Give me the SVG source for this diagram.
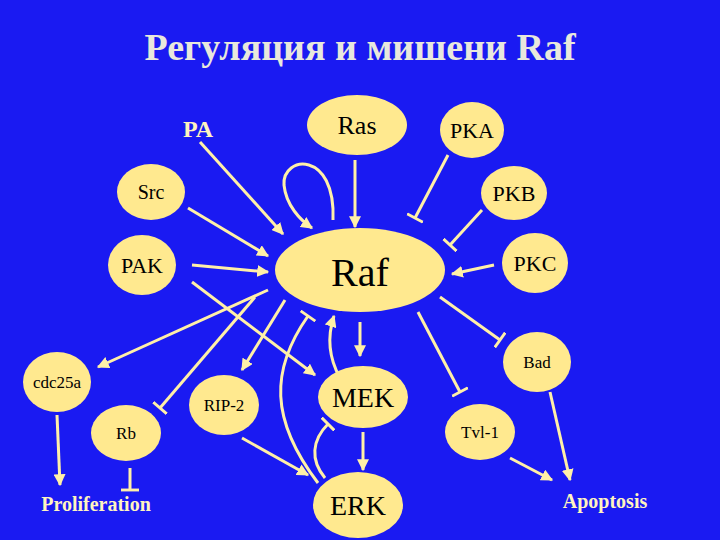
<svg xmlns="http://www.w3.org/2000/svg" width="720" height="540" viewBox="0 0 720 540">
<defs>
<marker id="ar" viewBox="0 0 10 10" refX="9" refY="5" markerWidth="4" markerHeight="4" orient="auto"><path d="M0,0L10,5L0,10z" fill="#fff0a8"/></marker>
<marker id="tb" viewBox="0 0 10 10" refX="5" refY="5" markerWidth="6" markerHeight="6" orient="auto" markerUnits="strokeWidth"><path d="M5,0V10" stroke="#fff0a8" stroke-width="1.6"/></marker>
</defs>
<style>
text{font-family:'Liberation Serif','Times New Roman','DejaVu Serif',serif}
.n ellipse{fill:#ffe98f}
.n text{fill:#000;text-anchor:middle;dominant-baseline:central;font-weight:normal}
#edges path{stroke:#fff0a8;stroke-width:3;fill:none}
.a{marker-end:url(#ar)}
.t{marker-end:url(#tb)}
.lbl{fill:#fff4c0;font-weight:bold;text-anchor:middle}
</style>
<rect width="720" height="540" fill="#1a1af2"/>
<text x="360" y="60" class="lbl" font-size="38" style="fill:#e8e8dc">Регуляция и мишени Raf</text>
<g id="edges">
<path class="a" d="M200,142L283,234"/>
<path class="a" d="M333,220C336,150 282,155 284,185C286,205 300,220 312,228"/>
<path class="a" d="M355,160L355,227"/>
<path class="t" d="M448,155L415,218"/>
<path class="t" d="M482,210L450,245"/>
<path class="a" d="M494,265L452,274"/>
<path class="a" d="M188,208L268,256"/>
<path class="a" d="M192,265L268,272"/>
<path class="a" d="M192,282L315,375"/>
<path class="a" d="M268,290L98,367"/>
<path class="t" d="M255,297L160,408"/>
<path class="a" d="M285,300L242,370"/>
<path class="t" d="M440,297L500,340"/>
<path class="t" d="M418,312L460,392"/>
<path class="a" d="M360,322L360,356"/>
<path class="a" d="M340,378C330,360 326,340 334,316"/>
<path class="t" d="M318,483C270,420 270,370 308,316"/>
<path class="t" d="M325,478C310,460 312,440 328,424"/>
<path class="a" d="M363,432L363,470"/>
<path class="a" d="M242,438L308,475"/>
<path class="a" d="M57,415L60,485"/>
<path class="t" d="M130,468L130,490"/>
<path class="a" d="M510,458L552,480"/>
<path class="a" d="M550,392L570,480"/>
</g>
<g id="Ras" class="n"><ellipse cx="357" cy="125" rx="50" ry="30"/><text x="357" y="125" font-size="26">Ras</text></g>
<g id="PKA" class="n"><ellipse cx="472" cy="130" rx="32" ry="28"/><text x="472" y="130" font-size="22">PKA</text></g>
<g id="PKB" class="n"><ellipse cx="514" cy="193" rx="33" ry="27"/><text x="514" y="193" font-size="22">PKB</text></g>
<g id="PKC" class="n"><ellipse cx="535" cy="263" rx="33" ry="30"/><text x="535" y="263" font-size="22">PKC</text></g>
<g id="Src" class="n"><ellipse cx="151" cy="192" rx="34" ry="28"/><text x="151" y="192" font-size="20">Src</text></g>
<g id="PAK" class="n"><ellipse cx="142" cy="265" rx="34" ry="30"/><text x="142" y="265" font-size="22">PAK</text></g>
<g id="Raf" class="n"><ellipse cx="360" cy="270" rx="85" ry="42"/><text x="360" y="272" font-size="40">Raf</text></g>
<g id="cdc25a" class="n"><ellipse cx="57" cy="382" rx="34" ry="30"/><text x="57" y="382" font-size="17">cdc25a</text></g>
<g id="Rb" class="n"><ellipse cx="126" cy="433" rx="35" ry="28"/><text x="126" y="433" font-size="17">Rb</text></g>
<g id="RIP-2" class="n"><ellipse cx="224" cy="405" rx="35" ry="30"/><text x="224" y="405" font-size="17">RIP-2</text></g>
<g id="MEK" class="n"><ellipse cx="363" cy="397" rx="45" ry="31"/><text x="363" y="397" font-size="28">MEK</text></g>
<g id="Bad" class="n"><ellipse cx="537" cy="362" rx="34" ry="30"/><text x="537" y="362" font-size="17">Bad</text></g>
<g id="Tvl-1" class="n"><ellipse cx="480" cy="432" rx="35" ry="28"/><text x="480" y="432" font-size="17">Tvl-1</text></g>
<g id="ERK" class="n"><ellipse cx="358" cy="505" rx="45" ry="33"/><text x="358" y="505" font-size="28">ERK</text></g>
<text x="198" y="137" class="lbl" font-size="24">PA</text>
<text x="96" y="511" class="lbl" font-size="20">Proliferation</text>
<text x="605" y="508" class="lbl" font-size="20">Apoptosis</text>
</svg>
